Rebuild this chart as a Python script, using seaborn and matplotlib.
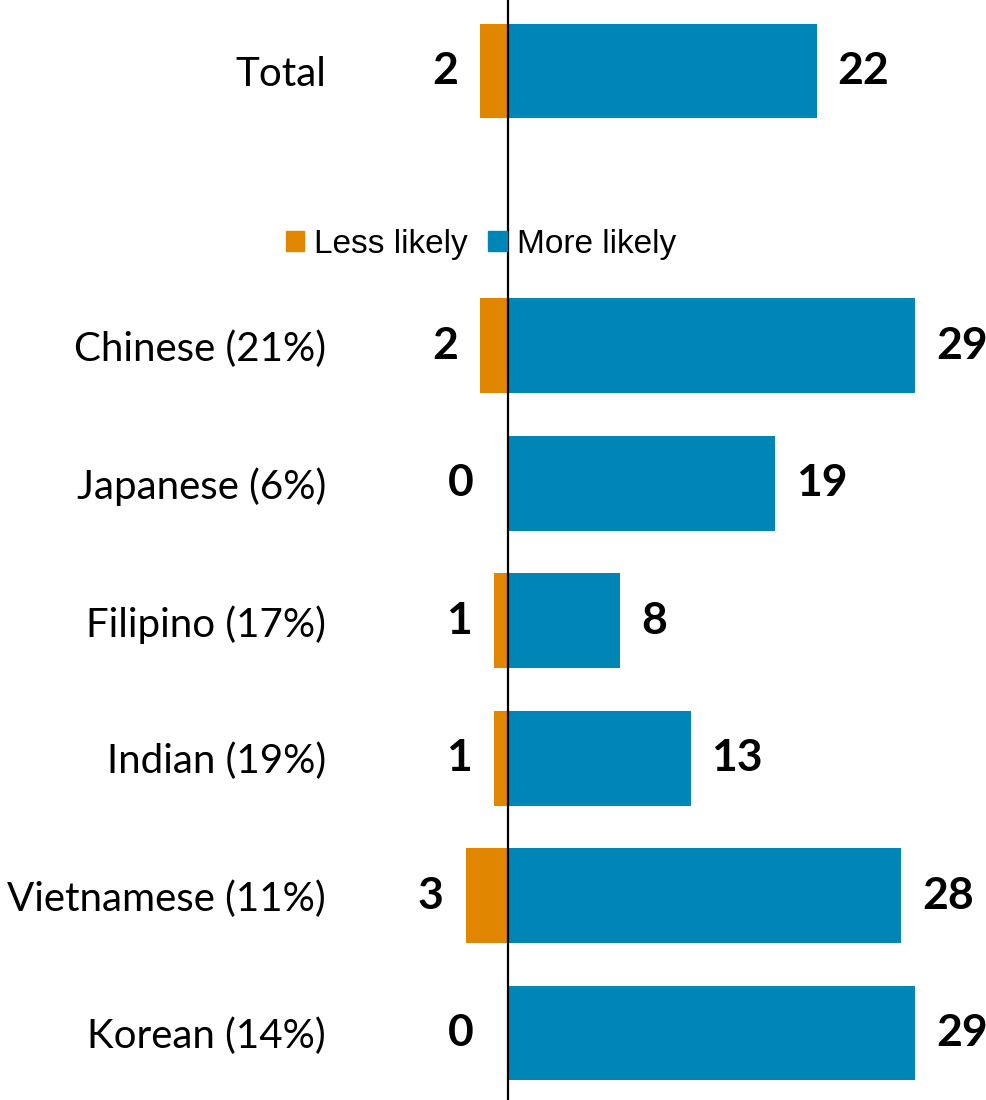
import pandas as pd
import matplotlib.pyplot as plt
import seaborn as sns
from matplotlib.patches import Patch

groups = ["Total", "Chinese (21%)", "Japanese (6%)", "Filipino (17%)",
          "Indian (19%)", "Vietnamese (11%)", "Korean (14%)"]
less_likely = [2, 2, 0, 1, 1, 3, 0]
more_likely = [22, 29, 19, 8, 13, 28, 29]
series = ["Less likely", "More likely"]
colors = ["#E08600", "#0086B6"]

# blank slot between Total and the subgroups
order = ["Total", " "] + groups[1:]

df = pd.concat([
    pd.DataFrame({"group": groups, "series": series[0], "value": [-v for v in less_likely]}),
    pd.DataFrame({"group": groups, "series": series[1], "value": more_likely}),
])

sns.set_style("white")
plt.rcParams["font.family"] = ["Lato", "DejaVu Sans"]
plt.rcParams["text.color"] = "black"
plt.rcParams["ytick.color"] = "black"

fig = plt.figure(figsize=(9.87, 11.0), dpi=100)
ax = fig.add_axes([340 / 987, 0, 647 / 987, 1])

sns.barplot(
    data=df, x="value", y="group", hue="series",
    order=order, hue_order=series, palette=colors,
    dodge=False, width=0.69, orient="h", legend=False, ax=ax,
    saturation=1, linewidth=0,
)

ax.set_xlim(-168 / 14.04, 479 / 14.04)
ax.set_ylim(7 + 67 / 137.4, -71 / 137.4)
ax.axvline(0, color="black", lw=1.6, zorder=5)

ax.set_xlabel("")
ax.set_ylabel("")
ax.set_xticks([])
ax.tick_params(axis="y", length=0, pad=10, labelsize=29, labelcolor="black")
sns.despine(ax=ax, left=True, bottom=True)

ypos = {g: order.index(g) for g in groups}
for g, lv, mv in zip(groups, less_likely, more_likely):
    y = ypos[g]
    off = 16 if lv else 25
    ax.annotate(str(lv), (-lv, y), xytext=(-off, 0), textcoords="offset points",
                ha="right", va="center", fontsize=32, fontweight="bold", color="black")
    ax.annotate(str(mv), (mv, y), xytext=(15, 0), textcoords="offset points",
                ha="left", va="center", fontsize=32, fontweight="bold", color="black")

handles = [Patch(color=c) for c in colors]
leg = fig.legend(handles, series, loc="center", bbox_to_anchor=(481 / 987, 1 - 244 / 1100),
                 ncol=2, frameon=False, handlelength=0.55, handleheight=0.55,
                 handletextpad=0.3, columnspacing=0.6,
                 prop={"family": "Liberation Sans", "size": 24})
for t in leg.get_texts():
    t.set_color("black")

fig.savefig("out.png", dpi=100)
